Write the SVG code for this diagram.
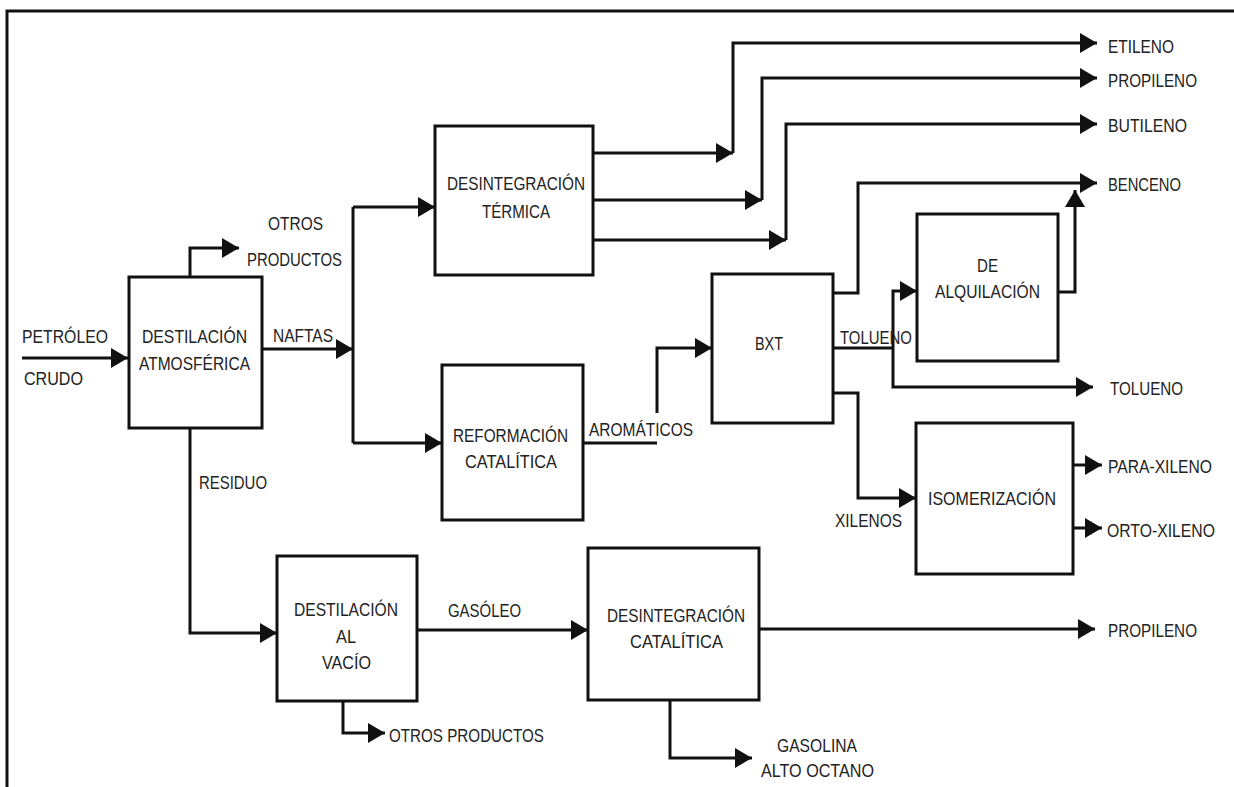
<svg xmlns="http://www.w3.org/2000/svg" width="1234" height="787" viewBox="0 0 1234 787">
<style>
.box{fill:#fff;stroke:#111;stroke-width:3}
.c{fill:none;stroke:#111;stroke-width:3;stroke-linejoin:miter}
.a{marker-end:url(#ah)}
text{font-family:"Liberation Sans",Arial,sans-serif;font-size:18.5px;fill:#222}
</style>
<defs>
<marker id="ah" markerUnits="userSpaceOnUse" markerWidth="18" markerHeight="20" refX="17" refY="10" orient="auto">
<path d="M0,0 L17,10 L0,20 z" fill="#111"/>
</marker>
</defs>
<rect width="1234" height="787" fill="#fff"/>
<g id="frame"><path class="c" d="M7,787 V11 H1234"/></g>

<g id="connectors">
<path class="c a" d="M22,358 H128"/>
<path class="c a" d="M190,277 V248 H239"/>
<path class="c a" d="M262,349 H353"/>
<path class="c" d="M353,207 V443"/>
<path class="c a" d="M353,207 H435"/>
<path class="c a" d="M353,443 H442"/>
<path class="c a" d="M593,153 H733"/>
<path class="c a" d="M733,153 V43 H1097"/>
<path class="c a" d="M593,200 H762"/>
<path class="c a" d="M762,200 V78 H1097"/>
<path class="c a" d="M593,240 H786"/>
<path class="c a" d="M786,240 V124 H1097"/>
<path class="c" d="M583,443 H657"/>
<path class="c a" d="M657,413 V348 H712"/>
<path class="c a" d="M833,293 H858 V183 H1097"/>
<path class="c" d="M833,348 H893"/>
<path class="c a" d="M893,348 V291 H917"/>
<path class="c a" d="M893,348 V387 H1093"/>
<path class="c a" d="M833,393 H858 V498 H916"/>
<path class="c a" d="M1058,292 H1075 V190"/>
<path class="c a" d="M1073,465 H1102"/>
<path class="c a" d="M1073,528 H1102"/>
<path class="c a" d="M190,428 V633 H277"/>
<path class="c a" d="M417,630 H588"/>
<path class="c a" d="M343,701 V733 H385"/>
<path class="c a" d="M759,629 H1095"/>
<path class="c a" d="M670,700 V758 H752"/>
</g>

<g id="node-destilacion-atm">
<rect class="box" x="129" y="277" width="133" height="151"/>
<text x="142" y="343" textLength="105" lengthAdjust="spacingAndGlyphs">DESTILACIÓN</text>
<text x="139" y="370" textLength="111" lengthAdjust="spacingAndGlyphs">ATMOSFÉRICA</text>
</g>
<g id="node-desintegracion-termica">
<rect class="box" x="435" y="126" width="158" height="149"/>
<text x="447" y="190" textLength="138" lengthAdjust="spacingAndGlyphs">DESINTEGRACIÓN</text>
<text x="482" y="218" textLength="68" lengthAdjust="spacingAndGlyphs">TÉRMICA</text>
</g>
<g id="node-reformacion">
<rect class="box" x="442" y="365" width="141" height="155"/>
<text x="453" y="442" textLength="115" lengthAdjust="spacingAndGlyphs">REFORMACIÓN</text>
<text x="465" y="468" textLength="92" lengthAdjust="spacingAndGlyphs">CATALÍTICA</text>
</g>
<g id="node-bxt">
<rect class="box" x="712" y="274" width="121" height="149"/>
<text x="755" y="350" textLength="28" lengthAdjust="spacingAndGlyphs">BXT</text>
</g>
<g id="node-dealquilacion">
<rect class="box" x="917" y="214" width="141" height="147"/>
<text x="977" y="272" textLength="21" lengthAdjust="spacingAndGlyphs">DE</text>
<text x="935" y="298" textLength="105" lengthAdjust="spacingAndGlyphs">ALQUILACIÓN</text>
</g>
<g id="node-isomerizacion">
<rect class="box" x="916" y="423" width="157" height="151"/>
<text x="928" y="505" textLength="128" lengthAdjust="spacingAndGlyphs">ISOMERIZACIÓN</text>
</g>
<g id="node-destilacion-vacio">
<rect class="box" x="277" y="556" width="140" height="145"/>
<text x="294" y="616" textLength="104" lengthAdjust="spacingAndGlyphs">DESTILACIÓN</text>
<text x="336" y="643" textLength="20" lengthAdjust="spacingAndGlyphs">AL</text>
<text x="322" y="669" textLength="49" lengthAdjust="spacingAndGlyphs">VACÍO</text>
</g>
<g id="node-desintegracion-catalitica">
<rect class="box" x="588" y="548" width="171" height="152"/>
<text x="607" y="622" textLength="138" lengthAdjust="spacingAndGlyphs">DESINTEGRACIÓN</text>
<text x="630" y="648" textLength="93" lengthAdjust="spacingAndGlyphs">CATALÍTICA</text>
</g>

<g id="labels">
<text x="22" y="343" textLength="86" lengthAdjust="spacingAndGlyphs">PETRÓLEO</text>
<text x="24" y="385" textLength="59" lengthAdjust="spacingAndGlyphs">CRUDO</text>
<text x="268" y="230" textLength="55" lengthAdjust="spacingAndGlyphs">OTROS</text>
<text x="247" y="266" textLength="95" lengthAdjust="spacingAndGlyphs">PRODUCTOS</text>
<text x="273" y="342" textLength="60" lengthAdjust="spacingAndGlyphs">NAFTAS</text>
<text x="199" y="489" textLength="68" lengthAdjust="spacingAndGlyphs">RESIDUO</text>
<text x="589" y="436" textLength="104" lengthAdjust="spacingAndGlyphs">AROMÁTICOS</text>
<text x="840" y="344" textLength="72" lengthAdjust="spacingAndGlyphs">TOLUENO</text>
<text x="835" y="527" textLength="67" lengthAdjust="spacingAndGlyphs">XILENOS</text>
<text x="1108" y="53" textLength="66" lengthAdjust="spacingAndGlyphs">ETILENO</text>
<text x="1108" y="87" textLength="89" lengthAdjust="spacingAndGlyphs">PROPILENO</text>
<text x="1108" y="132" textLength="79" lengthAdjust="spacingAndGlyphs">BUTILENO</text>
<text x="1108" y="191" textLength="73" lengthAdjust="spacingAndGlyphs">BENCENO</text>
<text x="1110" y="395" textLength="73" lengthAdjust="spacingAndGlyphs">TOLUENO</text>
<text x="1108" y="473" textLength="104" lengthAdjust="spacingAndGlyphs">PARA-XILENO</text>
<text x="1107" y="537" textLength="108" lengthAdjust="spacingAndGlyphs">ORTO-XILENO</text>
<text x="448" y="617" textLength="73" lengthAdjust="spacingAndGlyphs">GASÓLEO</text>
<text x="389" y="742" textLength="155" lengthAdjust="spacingAndGlyphs">OTROS PRODUCTOS</text>
<text x="1108" y="637" textLength="89" lengthAdjust="spacingAndGlyphs">PROPILENO</text>
<text x="777" y="752" textLength="80" lengthAdjust="spacingAndGlyphs">GASOLINA</text>
<text x="761" y="777" textLength="113" lengthAdjust="spacingAndGlyphs">ALTO OCTANO</text>
</g>
</svg>
